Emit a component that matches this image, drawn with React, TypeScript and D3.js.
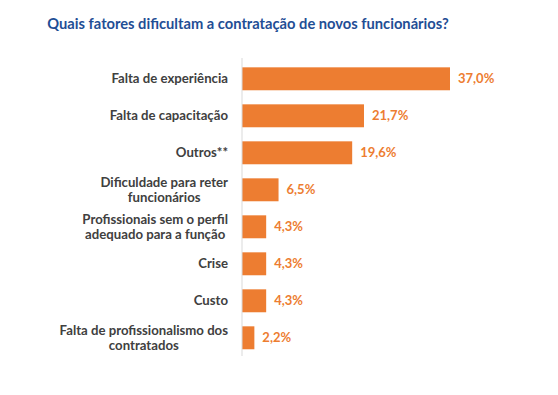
import * as d3 from "d3";

const WIDTH = 558;
const HEIGHT = 395;
const TITLE = "Quais fatores dificultam a contratação de novos funcionários?";

const CATEGORIES = [
  ["Falta de experiência"],
  ["Falta de capacitação"],
  ["Outros**"],
  ["Dificuldade para reter", "funcionários"],
  ["Profissionais sem o perfil", "adequado para a função"],
  ["Crise"],
  ["Custo"],
  ["Falta de profissionalismo dos", "contratados"],
];
const VALUES = [37.0, 21.7, 19.6, 6.5, 4.3, 4.3, 4.3, 2.2];
const VALUE_LABELS = ["37,0%", "21,7%", "19,6%", "6,5%", "4,3%", "4,3%", "4,3%", "2,2%"];

const ORANGE = "#ED7D31";
const TEXT = "#404040";
const BLUE = "#1F4E95";
const FONT = "Lato, 'Open Sans', sans-serif";
const LABEL_SIZE = 13.2;
const LABEL_RIGHT = 228;

// measure label widths so multi-line labels are centered as a block
let ctx: CanvasRenderingContext2D | null = null;
function measure(s: string) {
  if (!ctx) ctx = document.createElement("canvas").getContext("2d");
  if (!ctx) return s.length * 7;
  ctx.font = `bold ${LABEL_SIZE}px Lato`;
  return ctx.measureText(s).width;
}

export default function App() {
  const keys = CATEGORIES.map((c) => c.join(" "));

  const y = d3
    .scaleBand()
    .domain(keys)
    .range([60.3, 356.3])
    .paddingInner(0.38)
    .paddingOuter(0.19);

  const x = d3.scaleLinear().domain([0, 37]).range([242, 450]);

  return (
    <div style={{ position: "absolute", left: 0, top: 0 }}>
      <svg width={WIDTH} height={HEIGHT} viewBox={`0 0 ${WIDTH} ${HEIGHT}`} style={{ display: "block", background: "#fff" }}>
        <text
          x={248}
          y={29}
          textAnchor="middle"
          fill={BLUE}
          fontFamily={FONT}
          fontWeight="bold"
          fontSize={14.7}
        >
          {TITLE}
        </text>

        {VALUES.map((v, i) => (
          <rect
            key={keys[i]}
            x={x(0)}
            y={y(keys[i]) ?? 0}
            width={x(v) - x(0)}
            height={y.bandwidth()}
            fill={ORANGE}
          />
        ))}

        <line x1={x(0)} x2={x(0)} y1={58} y2={356} stroke="#D9D9D9" strokeWidth={1} />

        {VALUES.map((v, i) => (
          <text
            key={`${keys[i]}-v`}
            x={x(v) + 8}
            y={(y(keys[i]) ?? 0) + y.bandwidth() / 2}
            dy="0.35em"
            fill={ORANGE}
            fontFamily={FONT}
            fontWeight="bold"
            fontSize={13}
          >
            {VALUE_LABELS[i]}
          </text>
        ))}

        {CATEGORIES.map((lines, i) => {
          const cy = (y(keys[i]) ?? 0) + y.bandwidth() / 2;
          const lh = 15.6;
          const start = cy - ((lines.length - 1) * lh) / 2;
          const blockW = Math.max(...lines.map(measure));
          const center = LABEL_RIGHT - blockW / 2;
          return (
            <text
              key={`${keys[i]}-c`}
              textAnchor={lines.length > 1 ? "middle" : "end"}
              fill={TEXT}
              fontFamily={FONT}
              fontWeight="bold"
              fontSize={LABEL_SIZE}
            >
              {lines.map((line, j) => (
                <tspan
                  key={j}
                  x={lines.length > 1 ? center : LABEL_RIGHT}
                  y={start + j * lh}
                  dy="0.35em"
                >
                  {line}
                </tspan>
              ))}
            </text>
          );
        })}
      </svg>
    </div>
  );
}
